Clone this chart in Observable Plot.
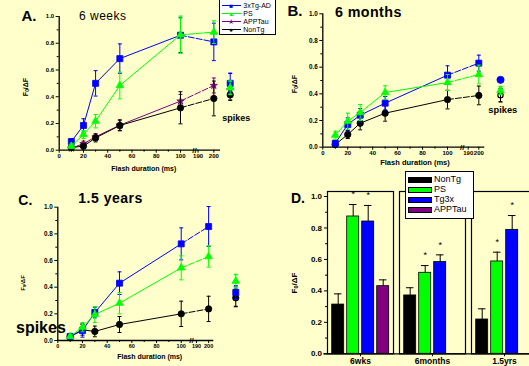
<!DOCTYPE html>
<html><head><meta charset="utf-8">
<script src="https://cdn.jsdelivr.net/npm/d3@7"></script>
<script src="https://cdn.jsdelivr.net/npm/@observablehq/plot@0.6"></script>
<style>
html,body{margin:0;padding:0;background:#FFFFCC;}
#wrap{position:relative;width:529px;height:366px;overflow:hidden;background:#FFFFCC;font-family:"Liberation Sans",Arial,sans-serif;}
#wrap svg{position:absolute;left:0;top:0;}
.t{position:absolute;white-space:nowrap;color:#000;line-height:1;}
.t sub{font-size:70%;line-height:0;vertical-align:-0.25em;}
.box{position:absolute;background:#fff;border:1px solid #000;box-sizing:border-box;}
</style></head><body><div id="wrap"></div>
<script>
// ---------- data ----------
const durations = [10, 20, 30, 50, 100, 200];
const xTickLabels = [0, 20, 40, 60, 80, 100, 190, 200];
const xMinorTicks = [10, 30, 50, 70, 90];
const yTicks = [0, 0.2, 0.4, 0.6, 0.8, 1.0];
const yMinorTicks = [0.1, 0.3, 0.5, 0.7, 0.9];

const lineSeries = ["APPTau", "NonTg", "3xTg-AD", "PS"];       // drawing order
const legendSeries = ["3xTg-AD", "PS", "APPTau", "NonTg"];     // legend order

// A. 6 weeks
const wk6_tg = [0.065, 0.185, 0.50, 0.685, 0.86, 0.81];
const wk6_tg_err = [0.02, 0.05, 0.095, 0.11, 0.13, 0.14];
const wk6_ps = [0.03, 0.117, 0.217, 0.484, 0.863, 0.883];
const wk6_ps_err = [0.015, 0.03, 0.05, 0.10, 0.14, 0.085];
const wk6_app = [0.015, 0.048, 0.10, 0.187, 0.367, 0.484];
const wk6_app_err = [0.01, 0.02, 0.02, 0.04, 0.05, 0.056];
const wk6_non = [0.02, 0.03, 0.092, 0.185, 0.317, 0.387];
const wk6_non_err = [0.015, 0.02, 0.03, 0.04, 0.12, 0.13];
const wk6_spike = [0.45, 0.414, 0.50, 0.467];        // APPTau, NonTg, 3xTg-AD, PS
const wk6_spike_err = [0.05, 0.04, 0.075, 0.05];

// B. 6 months
const mo6_tg = [0.03, 0.17, 0.24, 0.33, 0.54, 0.63];
const mo6_tg_err = [0.02, 0.05, 0.05, 0.05, 0.07, 0.06];
const mo6_ps = [0.09, 0.195, 0.26, 0.41, 0.485, 0.545];
const mo6_ps_err = [0.03, 0.06, 0.06, 0.05, 0.06, 0.07];
const mo6_non = [0.02, 0.095, 0.18, 0.255, 0.357, 0.388];
const mo6_non_err = [0.01, 0.03, 0.05, 0.06, 0.07, 0.07];
const mo6_spike = [null, 0.39, 0.505, 0.425];
const mo6_spike_err = [null, 0.05, 0, 0.03];

// C. 1.5 years
const yr15_tg = [0.03, 0.075, 0.21, 0.43, 0.725, 0.855];
const yr15_tg_err = [0.01, 0.05, 0.04, 0.085, 0.12, 0.15];
const yr15_ps = [0.03, 0.10, 0.195, 0.28, 0.545, 0.63];
const yr15_ps_err = [0.01, 0.035, 0.06, 0.08, 0.09, 0.08];
const yr15_non = [0.03, 0.08, 0.068, 0.12, 0.20, 0.237];
const yr15_non_err = [0.01, 0.04, 0.04, 0.06, 0.095, 0.095];
const yr15_spike = [null, 0.32, 0.36, 0.445];
const yr15_spike_err = [null, 0.065, 0.05, 0.05];

// D. bars (spikes)
const groups = ["6wks", "6months", "1.5yrs"];
const barSeries = ["NonTg", "PS", "Tg3x", "APPTau"];
const bar_nontg = [0.313, 0.371, 0.218];
const bar_nontg_err = [0.068, 0.049, 0.068];
const bar_ps = [0.873, 0.515, 0.587];
const bar_ps_err = [0.076, 0.046, 0.059];
const bar_tg3x = [0.841, 0.583, 0.788];
const bar_tg3x_err = [0.102, 0.046, 0.091];
const bar_apptau = [0.43, null, null];
const bar_apptau_err = [0.04, null, null];
const sigSeries = ["PS", "Tg3x"];

// ---------- styles ----------
const seriesStyle = {
  "3xTg-AD": {color: "#0000FF", symbol: "square", r: 3.4, ch: "■"},
  "PS": {color: "#00FF00", symbol: "triangle", r: 2.8, ch: "▲"},
  "APPTau": {color: "#800080", symbol: "star", r: 2.3, ch: "★"},
  "NonTg": {color: "#000000", symbol: "circle", r: 3.2, ch: "●"}
};
const barColors = ["#000000", "#00FF00", "#0000FF", "#800080"];
const FONT = "Liberation Sans, Arial, sans-serif";
const wrap = document.getElementById("wrap");
const cap = {draw(ctx, size) { const w = Math.sqrt(size / Math.PI); ctx.moveTo(-w, 0); ctx.lineTo(w, 0); }};

function linePanel(L, vals, errs, spikes, spikeErrs) {
  const pos = d => d <= 100 ? d : L.b190 + (d - 190) * (L.b200 - L.b190) / 10;
  const lbl = new Map(xTickLabels.map(t => [pos(t), String(t)]));
  const marks = [
    Plot.ruleX([0], {y1: 0, y2: 1, strokeWidth: 1.3}),
    Plot.ruleY([0], {x1: 0, x2: L.xEnd, strokeWidth: 1.3}),
    Plot.axisY({ticks: yTicks, tickFormat: d3.format(".1f"), tickSize: 3, tickPadding: 2, fontSize: L.tf, label: null}),
    Plot.axisY({ticks: yMinorTicks, tickFormat: () => "", tickSize: 2, label: null}),
    Plot.axisX({ticks: xTickLabels.map(pos), tickFormat: d => lbl.get(d), tickSize: 3, tickPadding: 1, fontSize: L.txf || L.tf, label: null}),
    Plot.axisX({ticks: xMinorTicks, tickFormat: () => "", tickSize: 2, label: null}),
    Plot.text(["//"], {x: L.breakX, y: 0, text: d => d, fontSize: 8})
  ];
  lineSeries.forEach((s, k) => {
    if (!vals[k]) return;
    const st = seriesStyle[s];
    const rows = durations.map((d, i) => ({dur: d, xp: pos(d), v: vals[k][i], lo: vals[k][i] - errs[k][i], hi: vals[k][i] + errs[k][i]}));
    marks.push(
      Plot.ruleX(rows, {x: "xp", y1: "lo", y2: "hi", stroke: st.color, strokeWidth: 1}),
      Plot.dot(rows, {x: "xp", y: "hi", symbol: cap, r: 2, stroke: st.color, strokeWidth: 1}),
      Plot.dot(rows, {x: "xp", y: "lo", symbol: cap, r: 2, stroke: st.color, strokeWidth: 1}),
      Plot.line(rows.filter(d => d.dur <= 100), {x: "xp", y: "v", stroke: st.color, strokeWidth: 1}),
      Plot.line(rows.filter(d => d.dur >= 100), {x: "xp", y: "v", stroke: st.color, strokeWidth: 1, strokeDasharray: "6,2"}),
      Plot.dot(rows, {x: "xp", y: "v", symbol: st.symbol, r: st.r, fill: st.color, stroke: st.color, strokeWidth: 0.8})
    );
  });
  lineSeries.forEach((s, k) => {
    if (spikes[k] == null) return;
    const st = seriesStyle[s];
    const sp = (L.spikeShape && L.spikeShape[s]) || {symbol: st.symbol, r: st.r, fill: st.color};
    const row = [{xp: L.spikeX, v: spikes[k], lo: spikes[k] - spikeErrs[k], hi: spikes[k] + spikeErrs[k]}];
    marks.push(
      Plot.ruleX(row, {x: "xp", y1: "lo", y2: "hi", stroke: st.color}),
      Plot.dot(row, {x: "xp", y: "hi", symbol: cap, r: 2, stroke: st.color}),
      Plot.dot(row, {x: "xp", y: "lo", symbol: cap, r: 2, stroke: st.color}),
      Plot.dot(row, {x: "xp", y: "v", symbol: sp.symbol, r: sp.r, fill: sp.fill, stroke: st.color, strokeWidth: sp.fill === "none" ? 1.2 : 0.8})
    );
  });
  const svg = Plot.plot({
    width: 529, height: 366,
    marginLeft: L.x0, marginRight: 529 - L.x1, marginTop: L.y1, marginBottom: 366 - L.y0,
    x: {domain: [0, L.xEnd], axis: null},
    y: {domain: [0, 1], axis: null},
    style: {background: "transparent", overflow: "visible", maxWidth: "none", fontFamily: FONT, fontWeight: "bold", color: "#000"},
    marks
  });
  wrap.appendChild(svg);
}

linePanel({x0: 58.7, x1: 220, xEnd: 133, y0: 149.7, y1: 16, b190: 114.5, b200: 127.5, spikeX: 141, breakX: 111.5, tf: 6},
  [wk6_app, wk6_non, wk6_tg, wk6_ps], [wk6_app_err, wk6_non_err, wk6_tg_err, wk6_ps_err], wk6_spike, wk6_spike_err);
linePanel({x0: 322.3, x1: 484.3, xEnd: 129.9, y0: 146.7, y1: 13.3, b190: 116.6, b200: 125.1, spikeX: 142.5, breakX: 111.8, tf: 6.3, txf: 6,
  spikeShape: {"3xTg-AD": {symbol: "circle", r: 3.6, fill: "#0000FF"}, "NonTg": {symbol: "circle", r: 2.6, fill: "none"}}},
  [null, mo6_non, mo6_tg, mo6_ps], [null, mo6_non_err, mo6_tg_err, mo6_ps_err], mo6_spike, mo6_spike_err);
linePanel({x0: 57.3, x1: 213.3, xEnd: 126.4, y0: 340, y1: 206.7, b190: 112.4, b200: 122.2, spikeX: 144.2, breakX: 108.3, tf: 6.3, txf: 5.5},
  [null, yr15_non, yr15_tg, yr15_ps], [null, yr15_non_err, yr15_tg_err, yr15_ps_err], yr15_spike, yr15_spike_err);

// ---------- D bars ----------
const barVals = [bar_nontg, bar_ps, bar_tg3x, bar_apptau];
const barErrs = [bar_nontg_err, bar_ps_err, bar_tg3x_err, bar_apptau_err];
const dRows = [];
groups.forEach((g, gi) => barSeries.forEach((s, si) => {
  const v = barVals[si][gi];
  if (v == null) return;
  dRows.push({group: g, series: s, v, hi: v + barErrs[si][gi], sig: sigSeries.includes(s)});
}));
// continuous bottom axis line under all panels of D
wrap.appendChild(Plot.plot({
  width: 529, height: 366, marginLeft: 323.3, marginRight: 0, marginTop: 191, marginBottom: 12.7,
  x: {domain: [0, 1], axis: null}, y: {domain: [0, 1.0318], axis: null},
  style: {background: "transparent", overflow: "visible", maxWidth: "none"},
  marks: [Plot.ruleY([0], {strokeWidth: 1.3})]
}));
wrap.appendChild(Plot.plot({
  width: 545, height: 366, marginLeft: 325.3, marginRight: 6.7, marginTop: 191, marginBottom: 12.7,
  fx: {domain: groups, paddingInner: 0.082, paddingOuter: 0, label: null, axis: null},
  x: {domain: barSeries, paddingInner: 0.2, paddingOuter: 0.26, axis: null},
  y: {domain: [0, 1.0318], axis: null},
  color: {domain: barSeries, range: barColors},
  style: {background: "transparent", overflow: "visible", maxWidth: "none", fontFamily: FONT, fontWeight: "bold", color: "#000"},
  marks: [
    Plot.frame({strokeWidth: 1.2}),
    Plot.barY(dRows, {fx: "group", x: "series", y: "v", fill: "series", stroke: "#000", strokeWidth: 0.8}),
    Plot.ruleX(dRows, {fx: "group", x: "series", y1: "v", y2: "hi", strokeWidth: 1}),
    Plot.tickY(dRows, {fx: "group", x: "series", y: "hi", insetLeft: 2.2, insetRight: 2.2, strokeWidth: 1}),
    Plot.text(dRows.filter(d => d.sig), {fx: "group", x: "series", y: "hi", text: () => "*", dy: -10, fontSize: 9, fontWeight: "normal"}),
    Plot.axisY({ticks: yTicks, tickFormat: d3.format(".1f"), tickSize: 3, tickPadding: 2.5, fontSize: 8, label: null}),
    Plot.axisY({ticks: yMinorTicks, tickFormat: () => "", tickSize: 2, label: null}),
    Plot.axisFx({anchor: "bottom", tickSize: 3, tickPadding: 1, fontSize: 8.5, label: null})
  ]
}));

// ---------- text ----------
function text(html, left, top, size, extra = {}) {
  const d = document.createElement("div");
  d.className = "t";
  d.innerHTML = html;
  d.style.left = left + "px";
  d.style.top = top + "px";
  d.style.fontSize = size + "px";
  d.style.fontWeight = extra.weight || "bold";
  if (extra.ls) d.style.letterSpacing = extra.ls + "px";
  if (extra.transform) d.style.transform = extra.transform;
  if (extra.color) d.style.color = extra.color;
  wrap.appendChild(d);
  return d;
}
text("A.", 21.5, 8, 15);
text("6 weeks", 79, 9.6, 12, {weight: "normal", ls: 0.5});
text("B.", 287.5, 3, 15);
text("6 months", 335, 5, 14.3, {ls: 0.4});
text("C.", 18.3, 193, 14);
text("1.5 years", 78.3, 190.8, 14, {ls: 0.5});
text("D.", 291, 191.4, 14);
text("spikes", 222.3, 113.8, 9);
text("spikes", 488.3, 105.6, 9.3);
text("spikes", 16, 319.6, 16);
const C = "translate(-50%,-50%)";
text("Flash duration (ms)", 143.8, 167.5, 7, {transform: C});
text("Flash duration (ms)", 415, 163.3, 7.5, {transform: C});
text("Flash duration (ms)", 149.7, 355.5, 7, {transform: C});
const R = "translate(-50%,-50%) rotate(-90deg)";
text("F<sub>0</sub>/ΔF", 25, 87, 7, {transform: R});
text("F<sub>0</sub>/ΔF", 294, 84, 7, {transform: R});
text("F<sub>0</sub>/ΔF", 23, 283, 6, {transform: R});
text("F<sub>0</sub>/ΔF", 295, 283, 8, {transform: R});

// legend A
function box(l, t, w, h) {
  const b = document.createElement("div");
  b.className = "box";
  Object.assign(b.style, {left: l + "px", top: t + "px", width: w + "px", height: h + "px"});
  wrap.appendChild(b);
}
box(219, -1, 57, 35.5);
legendSeries.forEach((s, i) => {
  const st = seriesStyle[s];
  const cy = 5.7 + 8 * i;
  const ln = document.createElement("div");
  Object.assign(ln.style, {position: "absolute", left: "221.7px", top: (cy - 0.5) + "px", width: "19px", height: "1px", background: st.color});
  wrap.appendChild(ln);
  text(st.ch, 231.2, cy, 6.5, {transform: C, color: st.color, weight: "normal"});
  text(s, 243.3, cy - 3.5, 7, {weight: "normal"});
});
// legend D
box(405, 171, 68.7, 48.3);
barSeries.forEach((s, i) => {
  const cy = 179.8 + 10 * i;
  const sw = document.createElement("div");
  Object.assign(sw.style, {position: "absolute", left: "408.3px", top: (cy - 3.3) + "px", width: "23.4px", height: "6.6px", background: barColors[i], border: "0.6px solid #000", boxSizing: "border-box"});
  wrap.appendChild(sw);
  text(s, 434, cy - 4.6, 9, {weight: "normal"});
});
</script></body></html>
